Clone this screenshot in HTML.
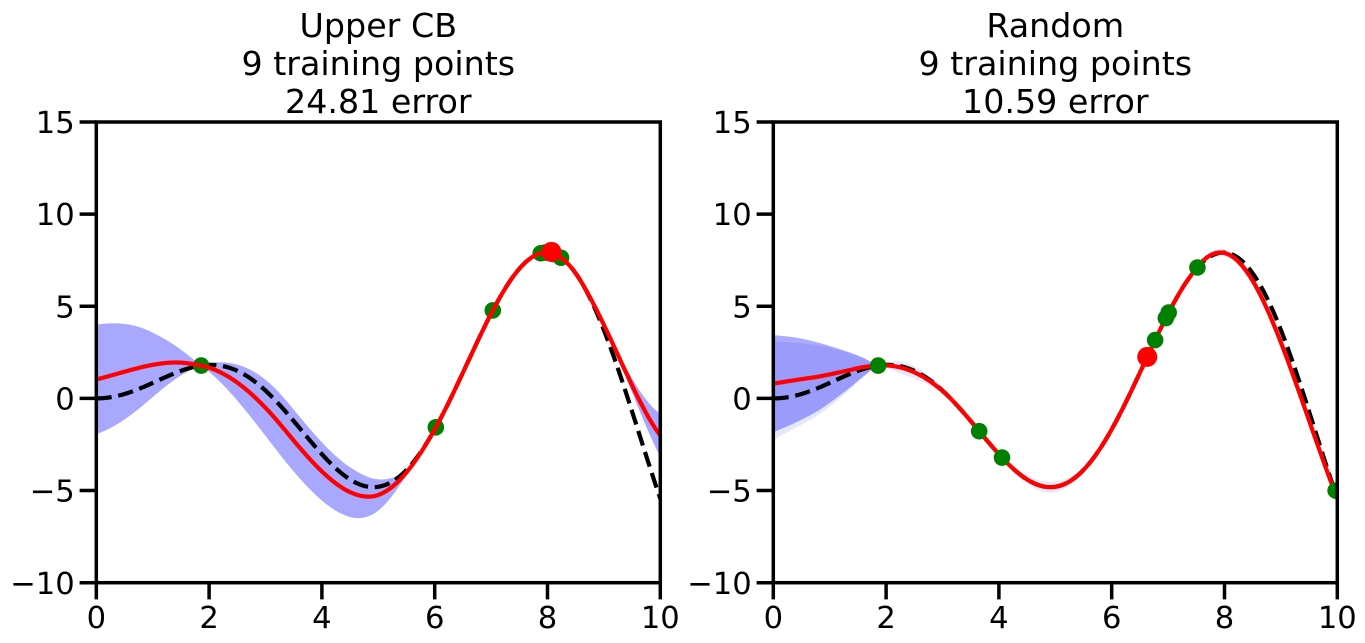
<!DOCTYPE html>
<html><head><meta charset="utf-8">
<style>
html,body{margin:0;padding:0;background:#fff;}
svg{display:block;}
text{font-family:"DejaVu Sans","Liberation Sans",sans-serif;fill:#000;}
.tk{font-size:30.6px;}
.tt{font-size:33.3px;}
</style></head><body>
<svg id="s" width="1365" height="643" viewBox="0 0 1365 643">
<rect width="1365" height="643" fill="#fff"/>
<defs>
<clipPath id="cL"><rect x="96.3" y="122" width="564" height="460.7"/></clipPath>
<clipPath id="cR"><rect x="773.3" y="122" width="564" height="460.7"/></clipPath>
</defs>
<g id="pL" clip-path="url(#cL)"></g>
<g id="pR" clip-path="url(#cR)"></g>

<!-- spines -->
<rect x="96.3" y="122" width="564" height="460.7" fill="none" stroke="#000" stroke-width="3.5"/>
<rect x="773.3" y="122" width="564" height="460.7" fill="none" stroke="#000" stroke-width="3.5"/>

<!-- ticks -->
<g stroke="#000" stroke-width="3.5">
<line x1="79.6" y1="122" x2="96.3" y2="122"/>
<line x1="79.6" y1="214.14" x2="96.3" y2="214.14"/>
<line x1="79.6" y1="306.28" x2="96.3" y2="306.28"/>
<line x1="79.6" y1="398.42" x2="96.3" y2="398.42"/>
<line x1="79.6" y1="490.56" x2="96.3" y2="490.56"/>
<line x1="79.6" y1="582.7" x2="96.3" y2="582.7"/>
<line x1="96.3" y1="582.7" x2="96.3" y2="599.4"/>
<line x1="209.1" y1="582.7" x2="209.1" y2="599.4"/>
<line x1="321.9" y1="582.7" x2="321.9" y2="599.4"/>
<line x1="434.7" y1="582.7" x2="434.7" y2="599.4"/>
<line x1="547.5" y1="582.7" x2="547.5" y2="599.4"/>
<line x1="660.3" y1="582.7" x2="660.3" y2="599.4"/>

<line x1="756.6" y1="122" x2="773.3" y2="122"/>
<line x1="756.6" y1="214.14" x2="773.3" y2="214.14"/>
<line x1="756.6" y1="306.28" x2="773.3" y2="306.28"/>
<line x1="756.6" y1="398.42" x2="773.3" y2="398.42"/>
<line x1="756.6" y1="490.56" x2="773.3" y2="490.56"/>
<line x1="756.6" y1="582.7" x2="773.3" y2="582.7"/>
<line x1="773.3" y1="582.7" x2="773.3" y2="599.4"/>
<line x1="886.1" y1="582.7" x2="886.1" y2="599.4"/>
<line x1="998.9" y1="582.7" x2="998.9" y2="599.4"/>
<line x1="1111.7" y1="582.7" x2="1111.7" y2="599.4"/>
<line x1="1224.5" y1="582.7" x2="1224.5" y2="599.4"/>
<line x1="1337.3" y1="582.7" x2="1337.3" y2="599.4"/>
</g>

<!-- y tick labels -->
<g class="tk" text-anchor="end">
<text x="74.7" y="133.1">15</text>
<text x="74.7" y="225.2">10</text>
<text x="74.7" y="317.4">5</text>
<text x="74.7" y="409.5">0</text>
<text x="74.7" y="501.7">−5</text>
<text x="74.7" y="593.8">−10</text>
<text x="751.7" y="133.1">15</text>
<text x="751.7" y="225.2">10</text>
<text x="751.7" y="317.4">5</text>
<text x="751.7" y="409.5">0</text>
<text x="751.7" y="501.7">−5</text>
<text x="751.7" y="593.8">−10</text>
</g>
<!-- x tick labels -->
<g class="tk" text-anchor="middle">
<text x="96.3" y="628">0</text>
<text x="209.1" y="628">2</text>
<text x="321.9" y="628">4</text>
<text x="434.7" y="628">6</text>
<text x="547.5" y="628">8</text>
<text x="660.3" y="628">10</text>
<text x="773.3" y="628">0</text>
<text x="886.1" y="628">2</text>
<text x="998.9" y="628">4</text>
<text x="1111.7" y="628">6</text>
<text x="1224.5" y="628">8</text>
<text x="1337.3" y="628">10</text>
</g>
<!-- titles -->
<g class="tt" text-anchor="middle">
<text x="378.3" y="37">Upper CB</text>
<text x="378.3" y="75">9 training points</text>
<text x="378.3" y="113">24.81 error</text>
<text x="1055.3" y="37">Random</text>
<text x="1055.3" y="75">9 training points</text>
<text x="1055.3" y="113">10.59 error</text>
</g>
</svg>
<script>
(function(){
const f=x=>x*Math.sin(x);
function herm(p){const n=p.length,m=[];for(let i=0;i<n;i++){if(i==0)m.push((p[1][1]-p[0][1])/(p[1][0]-p[0][0]));else if(i==n-1)m.push((p[n-1][1]-p[n-2][1])/(p[n-1][0]-p[n-2][0]));else m.push((p[i+1][1]-p[i-1][1])/(p[i+1][0]-p[i-1][0]));}
return x=>{let i=0;while(i<n-2&&x>p[i+1][0])i++;const x0=p[i][0],x1=p[i+1][0],h=x1-x0;let t=(x-x0)/h;t=Math.min(1,Math.max(0,t));const t2=t*t,t3=t2*t;return (2*t3-3*t2+1)*p[i][1]+(t3-2*t2+t)*h*m[i]+(-2*t3+3*t2)*p[i+1][1]+(t3-t2)*h*m[i+1];};}
/* hermite with explicit slopes: knots [x,y,slopeIn,slopeOut] */
function herm2(k){const n=k.length;
return x=>{let i=0;while(i<n-2&&x>k[i+1][0])i++;const x0=k[i][0],x1=k[i+1][0],h=x1-x0;let t=(x-x0)/h;t=Math.min(1,Math.max(0,t));const t2=t*t,t3=t2*t;return (2*t3-3*t2+1)*k[i][1]+(t3-2*t2+t)*h*k[i][3]+(-2*t3+3*t2)*k[i+1][1]+(t3-t2)*h*k[i+1][2];};}
const Y=v=>122+(15-v)*18.428;
function line(ox,fn,a,b){let s='';const N=Math.round((b-a)/0.01);for(let k=0;k<=N;k++){const x=a+(b-a)*k/N;s+=(k?'L':'M')+(ox+x*56.4).toFixed(2)+' '+Y(fn(x)).toFixed(2);}return s;}
function band(ox,mf,hf,a,b){let up=[],lo=[];const N=Math.round((b-a)/0.01);for(let k=0;k<=N;k++){const x=a+(b-a)*k/N;const m=mf(x),h=Math.max(0,hf(x));up.push([x,m+h]);lo.push([x,m-h]);}lo.reverse();const all=up.concat(lo);return all.map((p,i)=>(i?'L':'M')+(ox+p[0]*56.4).toFixed(2)+' '+Y(p[1]).toFixed(2)).join('')+'Z';}
function dot(ox,x,y,r,c){return '<circle cx="'+(ox+x*56.4).toFixed(2)+'" cy="'+Y(y).toFixed(2)+'" r="'+r+'" fill="'+c+'"/>';}

/* LEFT */
const oL=96.3;
const mLa=herm2([[0,1.03,0.75,0.75],[1.42,1.95,0,0],[1.86,1.78,-0.6,-0.6],[3.3,-1.55,-3.7,-3.7],[4.83,-5.33,0,0],[6.02,-1.57,5.553,5.553]]);
const mL=x=>{if(x<=6.02)return mLa(x);if(x<=8.6)return f(x);return f(x)+1.75*(x-8.6)*(x-8.6);};
const hL=herm2([[0,2.97,-0.3,-0.3],[0.9,1.95,-2.0,-2.0],[1.86,0,-1.8,1.6],[3.4,1.68,0,0],[4.5,1.35,-0.6,-0.6],[5.3,0.4,-1.6,-1.6],[5.9,0,0,0],[8.9,0,0,0],[10,1.17,1.9,1.9]]);
let sL='';
sL+='<path d="'+band(oL,mL,hL,0,10)+'" fill="#0000ff" fill-opacity="0.34" stroke="none"/>';
sL+='<path d="'+line(oL,f,0,10)+'" fill="none" stroke="#000" stroke-width="4.2" stroke-dasharray="15.4 6.7"/>';
[1.86,6.02,7.03,7.88,7.96,8.01,8.12,8.24].forEach(x=>{sL+=dot(oL,x,f(x),8.3,'#008000');});
sL+='<path d="'+line(oL,mL,0,10)+'" fill="none" stroke="#ff0000" stroke-width="4.2" stroke-linejoin="round"/>';
sL+=dot(oL,8.07,7.95,10,'#ff0000');
document.getElementById('pL').insertAdjacentHTML('beforeend',sL);

/* RIGHT */
const oR=773.3;
let mRp=[[0,0.8],[0.4,1.0],[0.83,1.2],[1.3,1.5],[1.6,1.7],[1.86,1.78]];
for(let k=0;k<=160;k++){const x=2.0+k*0.05;const s=x>7.4?0.09*Math.sin(Math.PI*(x-7.4)/2.6):0;const d=x<3.06?-0.08*Math.sin(Math.PI*(x-1.86)/1.2):0;mRp.push([x,f(x+s)+d]);}
const mR=herm(mRp);
const hA=herm([[0,2.64],[0.4,2.3],[0.83,1.8],[1.3,1.05],[1.6,0.5],[1.86,0],[2.1,0]]);
const mB=x=>mR(x)-0.385*Math.pow(Math.max(0,1-x/1.86),1.2);
const hB=herm([[0,2.67],[0.4,2.3],[0.83,1.85],[1.3,1.1],[1.6,0.5],[1.86,0.1],[2.3,0.35],[2.8,0.25],[3.5,0.1],[4.0,0.1],[4.9,0.3],[5.5,0.15],[6.6,0.05],[8.0,0.2],[9.0,0.3],[9.6,0.15],[10,0.05]]);
let sR='';
sR+='<path d="'+band(oR,mB,hB,0,10)+'" fill="rgb(205,210,245)" fill-opacity="0.5" stroke="none"/>';
sR+='<path d="'+band(oR,mR,hA,0,1.86)+'" fill="#0000ff" fill-opacity="0.33" stroke="none"/>';
sR+='<path d="'+line(oR,f,0,10)+'" fill="none" stroke="#000" stroke-width="4.2" stroke-dasharray="15.4 6.7"/>';
sR+='<path d="'+line(oR,mR,0,10)+'" fill="none" stroke="#ff0000" stroke-width="4.2" stroke-linejoin="round"/>';
[[1.86,f(1.86)],[3.65,f(3.65)],[4.055,f(4.055)],[6.77,f(6.77)],[6.96,f(6.96)],[7.01,f(7.01)],[7.52,f(7.52)],[9.97,-5.0]].forEach(p=>{sR+=dot(oR,p[0],p[1],8.3,'#008000');});
sR+=dot(oR,6.63,f(6.63),10,'#ff0000');
document.getElementById('pR').insertAdjacentHTML('beforeend',sR);
})();
</script>
</body></html>
